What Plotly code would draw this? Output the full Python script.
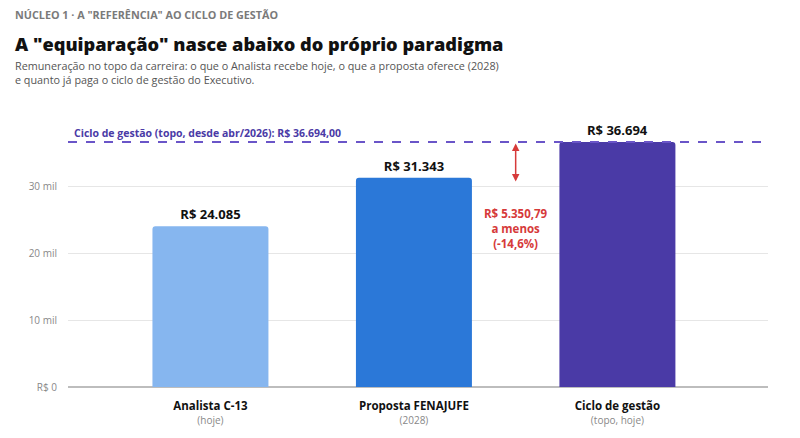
import plotly.graph_objects as go

categories = ["Analista C-13", "Proposta FENAJUFE", "Ciclo de gestão"]
subtitles = ["(hoje)", "(2028)", "(topo, hoje)"]
values = [24085, 31343, 36694]
value_labels = ["R$ 24.085", "R$ 31.343", "R$ 36.694"]
colors = ["#86b6ef", "#2b78d8", "#4a3aa6"]
ref_value = 36694.00
ref_label = "Ciclo de gestão (topo, desde abr/2026): R$ 36.694,00"
gap_label = "R$ 5.350,79<br>a menos<br>(-14,6%)"
gap_arrow_end = 30800
ytick_vals = [0, 10000, 20000, 30000]
ytick_text = ["R$ 0", "10 mil", "20 mil", "30 mil"]

FONT = "Open Sans, Noto Sans, sans-serif"
xs = list(range(len(categories)))

fig = go.Figure()
fig.add_trace(go.Bar(
    x=xs, y=values, width=0.57,
    marker=dict(color=colors, cornerradius=3, line=dict(width=0)),
    text=["<b>%s</b>" % t for t in value_labels],
    textposition="outside",
    textfont=dict(size=13, color="#111111", family=FONT),
    cliponaxis=False,
    hoverinfo="skip",
))

fig.add_shape(type="line", xref="paper", yref="y", x0=0, x1=1, y0=ref_value, y1=ref_value,
              line=dict(color="#6a55c8", width=2, dash="dash"), layer="above")

fig.add_annotation(xref="paper", yref="y", x=0.005, y=ref_value, text="<b>%s</b>" % ref_label,
                   showarrow=False, xanchor="left", yanchor="bottom", yshift=0,
                   font=dict(size=10.5, color="#4a3aa6", family=FONT))

# gap arrow
fig.add_annotation(x=1.5, y=gap_arrow_end, ax=1.5, ay=ref_value, xref="x", yref="y",
                   axref="x", ayref="y", text="", showarrow=True,
                   arrowhead=2, startarrowhead=2, arrowside="end+start",
                   arrowsize=1, arrowwidth=1.5, arrowcolor="#d63a3a")
fig.add_annotation(x=1.5, y=23700, xref="x", yref="y", text="<b>%s</b>" % gap_label,
                   showarrow=False, align="center",
                   font=dict(size=11.5, color="#d63a3a", family=FONT))

ticktext = ["<b>%s</b><br><span style='font-size:10px;color:#888888'>%s</span>" % (c, s)
            for c, s in zip(categories, subtitles)]

fig.update_layout(
    width=800, height=438,
    margin=dict(l=68, r=32, t=120, b=51),
    paper_bgcolor="white", plot_bgcolor="white",
    showlegend=False,
    font=dict(family=FONT, color="#333333"),
    xaxis=dict(range=[-0.7, 2.74], tickvals=xs, ticktext=ticktext,
               tickfont=dict(size=11.5, color="#111111", family=FONT),
               showgrid=False, zeroline=False, showline=False, ticks="",
               ticklabelstandoff=10),
    yaxis=dict(range=[0, 40000], tickvals=ytick_vals, ticktext=ytick_text,
               tickfont=dict(size=10, color="#888888", family=FONT),
               showgrid=True, gridcolor="#e6e6e6", gridwidth=1,
               zeroline=True, zerolinecolor="#bdbdbd", zerolinewidth=1.5,
               showline=False, ticks="", ticklabelstandoff=10),
)

X0 = (13 - 68) / 700
fig.add_annotation(xref="paper", yref="paper", x=X0, y=1 + (120 - 15) / 267,
                   text="NÚCLEO 1 · A \"REFERÊNCIA\" AO CICLO DE GESTÃO",
                   showarrow=False, xanchor="left", yanchor="middle",
                   font=dict(size=10.8, color="#7a7a7a", family=FONT, weight=700))
fig.add_annotation(xref="paper", yref="paper", x=X0, y=1 + (120 - 44) / 267,
                   text="A \"equiparação\" nasce abaixo do próprio paradigma",
                   showarrow=False, xanchor="left", yanchor="middle",
                   font=dict(size=18.2, color="#111111", family=FONT, weight=800))
fig.add_annotation(xref="paper", yref="paper", x=X0, y=1 + (120 - 72) / 267,
                   text="Remuneração no topo da carreira: o que o Analista recebe hoje, o que a proposta oferece (2028)<br>e quanto já paga o ciclo de gestão do Executivo.",
                   showarrow=False, xanchor="left", yanchor="middle", align="left",
                   font=dict(size=10.8, color="#555555", family=FONT))

fig.write_html("out.html")
